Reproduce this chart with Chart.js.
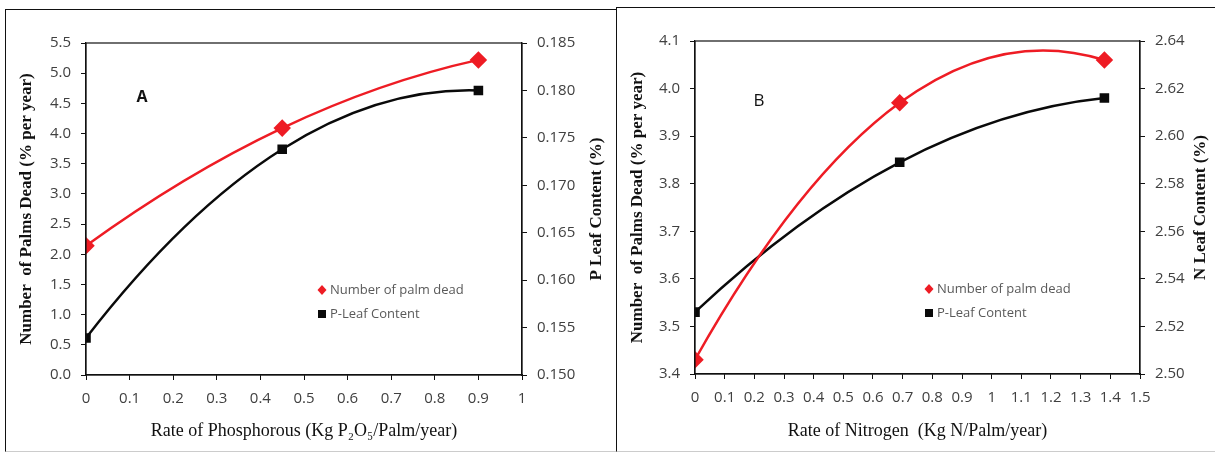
<!DOCTYPE html>
<html>
<head>
<meta charset="utf-8">
<script src="https://cdn.jsdelivr.net/npm/chart.js@4.4.1/dist/chart.umd.min.js"></script>
<style>
  html, body { margin: 0; padding: 0; background: #fff; }
  body { width: 1215px; height: 453px; position: relative; overflow: hidden; }
  .panel { position: absolute; box-sizing: border-box; background: #fff; }
  #panelA { left: 5px; top: 9px; width: 613px; height: 443px; border: 1.5px solid #111; border-bottom-color: #ccc; }
  #panelB { left: 616px; top: 7px; width: 602px; height: 445px; border: 1.5px solid #111; border-bottom-color: #ccc; }
  .panel canvas { position: absolute; left: 0; top: 0; }
</style>
</head>
<body>
<div class="panel" id="panelA"><canvas id="chartA" width="610" height="440"></canvas></div>
<div class="panel" id="panelB"><canvas id="chartB" width="599" height="442"></canvas></div>
<script>
// Panel A: fosforo
const rateP = [0, 0.45, 0.9];
const deadP = [2.14, 4.09, 5.22];
const leafP = [0.1539, 0.1738, 0.1800];

// Panel B: nitrogeno
const rateN = [0, 0.69, 1.38];
const deadN = [3.43, 3.97, 4.06];
const leafN = [2.526, 2.589, 2.616];

// rangos de ejes [min, max, paso]
const xAxisP = [0, 1, 0.1];
const yDeadP = [0, 5.5, 0.5];
const yLeafP = [0.150, 0.185, 0.005];
const xAxisN = [0, 1.5, 0.1];
const yDeadN = [3.4, 4.1, 0.1];
const yLeafN = [2.50, 2.64, 0.02];

const legendNames = ['Number of palm dead', 'P-Leaf Content'];

const TICK_FONT = { family: 'Open Sans', size: 15 };
const TICK_COLOR = '#404040';
const TITLE_FONT = { family: 'Liberation Serif', size: 17, weight: 'bold' };

function pts(xs, ys) {
  return xs.map((x, i) => ({ x: x, y: ys[i] }));
}

// curva suave tipo "tendencia" de Excel: tangentes de la parabola que pasa
// por los tres puntos, aplicadas a los puntos de control de Chart.js
const parabolaSpline = {
  id: 'parabolaSpline',
  beforeDatasetDraw(chart, args) {
    const meta = args.meta;
    const line = meta.dataset;
    line.updateControlPoints(chart.chartArea, 'x');
    const p = meta.data;
    if (p.length !== 3) return;
    const f01 = (p[1].y - p[0].y) / (p[1].x - p[0].x);
    const f12 = (p[2].y - p[1].y) / (p[2].x - p[1].x);
    const f012 = (f12 - f01) / (p[2].x - p[0].x);
    const slope = (x) => f01 + f012 * ((x - p[0].x) + (x - p[1].x));
    for (let i = 0; i < 2; i++) {
      const a = p[i], b = p[i + 1];
      const h = (b.x - a.x) / 3;
      a.cp2x = a.x + h; a.cp2y = a.y + slope(a.x) * h;
      b.cp1x = b.x - h; b.cp1y = b.y - slope(b.x) * h;
    }
    line._path = undefined;
  }
};

// marco del area de trazado, letra del panel, titulo derecho y leyenda interior
const panelDecor = {
  id: 'panelDecor',
  afterDraw(chart, args, opts) {
    const { ctx, chartArea: a } = chart;
    ctx.save();
    ctx.strokeStyle = '#111';
    ctx.lineWidth = 1.2;
    ctx.strokeRect(a.left, a.top, a.right - a.left, a.bottom - a.top);

    ctx.fillStyle = '#111';
    ctx.font = opts.letterFont;
    ctx.textBaseline = 'middle';
    ctx.textAlign = 'center';
    ctx.fillText(opts.letter, a.left + opts.letterAt[0], a.top + opts.letterAt[1]);

    // titulo del eje derecho, leido de abajo hacia arriba como en el original
    ctx.save();
    ctx.translate(a.right + opts.rightTitleAt, (a.top + a.bottom) / 2);
    ctx.rotate(-Math.PI / 2);
    ctx.font = 'bold 17px "Liberation Serif"';
    ctx.fillText(opts.rightTitle, 0, 0);
    ctx.restore();

    const lx = a.left + opts.legendAt[0];
    const ly = a.top + opts.legendAt[1];
    ctx.font = '13px "Open Sans"';
    ctx.textAlign = 'left';
    chart.data.datasets.forEach((ds, i) => {
      const y = ly + i * 24;
      ctx.fillStyle = ds.pointBackgroundColor;
      if (i === 0) {
        ctx.beginPath();
        ctx.moveTo(lx, y - 5); ctx.lineTo(lx + 4.5, y); ctx.lineTo(lx, y + 5); ctx.lineTo(lx - 4.5, y);
        ctx.closePath(); ctx.fill();
      } else {
        ctx.fillRect(lx - 4, y - 4, 8, 8);
      }
      ctx.fillStyle = '#595959';
      ctx.fillText(ds.label, lx + 8, y);
    });
    ctx.restore();
  }
};

function fixWidth(w) { return (scale) => { scale.width = w; }; }
function fixHeight(h) { return (scale) => { scale.height = h; }; }
function tidy(v) { return String(Math.round(v * 10) / 10); }
function fixed(d) { return (v) => Number(v).toFixed(d); }

function makeChart(id, cfg) {
  return new Chart(document.getElementById(id), {
    type: 'line',
    data: {
      datasets: [
        {
          label: legendNames[0],
          data: pts(cfg.x, cfg.dead),
          yAxisID: 'y',
          borderColor: '#ee1c24',
          borderWidth: 2.5,
          pointStyle: 'rectRot',
          pointRadius: 7,
          pointBackgroundColor: '#ee1c24',
          pointBorderColor: '#ee1c24',
          tension: 0.4,
          order: 1
        },
        {
          label: legendNames[1],
          data: pts(cfg.x, cfg.leaf),
          yAxisID: 'y1',
          borderColor: '#0a0a0a',
          borderWidth: 2.5,
          pointStyle: 'rect',
          pointRadius: 5,
          pointBackgroundColor: '#0a0a0a',
          pointBorderColor: '#0a0a0a',
          tension: 0.4,
          order: 2
        }
      ]
    },
    options: {
      responsive: false,
      animation: false,
      layout: { padding: { top: 33, left: 0, right: 0, bottom: 0 } },
      plugins: {
        legend: { display: false },
        tooltip: { enabled: false },
        panelDecor: cfg.decor
      },
      scales: {
        x: {
          type: 'linear',
          min: cfg.xr[0], max: cfg.xr[1],
          afterFit: fixHeight(cfg.xh),
          ticks: { stepSize: cfg.xr[2], autoSkip: false, maxRotation: 0, color: TICK_COLOR, font: TICK_FONT, padding: 10, callback: tidy },
          grid: { drawOnChartArea: false, tickLength: 5, color: '#111' },
          border: { color: '#111', width: 1.2 },
          title: { display: true, text: cfg.xTitle, color: '#111', font: { family: 'Liberation Serif', size: 18 }, padding: { top: 4, bottom: 8 } }
        },
        y: {
          position: 'left',
          min: cfg.yl[0], max: cfg.yl[1],
          afterFit: fixWidth(cfg.lw),
          ticks: { stepSize: cfg.yl[2], color: TICK_COLOR, font: TICK_FONT, padding: 10, callback: fixed(cfg.ld) },
          grid: { drawOnChartArea: false, tickLength: 5, color: '#111' },
          border: { color: '#111', width: 1.2 },
          title: { display: true, text: cfg.lTitle, color: '#111', font: TITLE_FONT, padding: { top: 10, bottom: 0 } }
        },
        y1: {
          position: 'right',
          min: cfg.yr[0], max: cfg.yr[1],
          afterFit: fixWidth(cfg.rw),
          ticks: { stepSize: cfg.yr[2], color: TICK_COLOR, font: TICK_FONT, padding: 10, callback: fixed(cfg.rd) },
          grid: { drawOnChartArea: false, tickLength: 5, color: '#111' },
          border: { color: '#111', width: 1.2 },
          title: { display: false }
        }
      }
    },
    plugins: [parabolaSpline, panelDecor]
  });
}

makeChart('chartA', {
  x: rateP, dead: deadP, leaf: leafP,
  xr: xAxisP, yl: yDeadP, yr: yLeafP, ld: 1, rd: 3,
  lw: 80, rw: 94, xh: 75,
  xTitle: 'Rate of Phosphorous (Kg P\u2082O\u2085/Palm/year)',
  lTitle: 'Number  of Palms Dead (% per year)',
  decor: { letter: 'A', letterFont: 'bold 16px "Open Sans"', letterAt: [56, 54], legendAt: [236, 247],
           rightTitle: 'P Leaf Content (%)', rightTitleAt: 75 }
});

makeChart('chartB', {
  x: rateN, dead: deadN, leaf: leafN,
  xr: xAxisN, yl: yDeadN, yr: yLeafN, ld: 1, rd: 2,
  lw: 78, rw: 76, xh: 76,
  xTitle: 'Rate of Nitrogen  (Kg N/Palm/year)',
  lTitle: 'Number  of Palms Dead (% per year)',
  decor: { letter: 'B', letterFont: '17px "Open Sans"', letterAt: [64, 60], legendAt: [234, 248],
           rightTitle: 'N Leaf Content (%)', rightTitleAt: 61 }
});
</script>
</body>
</html>
